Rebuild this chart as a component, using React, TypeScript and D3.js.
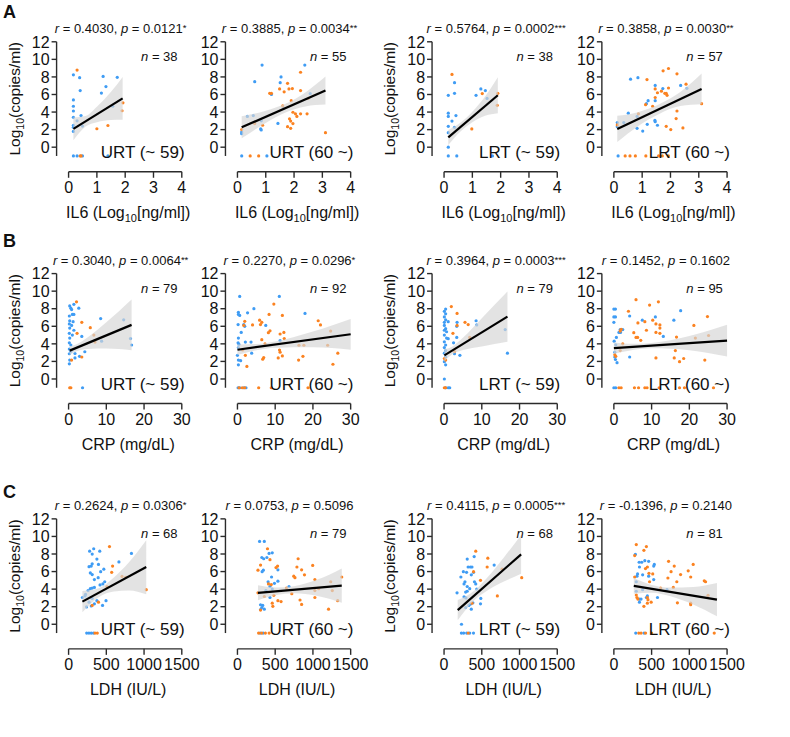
import React from "react";
import * as d3 from "d3";

type Pt = number[];

// ---------- Panel statistics ----------
const rValues = ["0.4030", "0.3885", "0.5764", "0.3858", "0.3040", "0.2270", "0.3964", "0.1452", "0.2624", "0.0753", "0.4115", "-0.1396"];
const pValues = ["0.0121", "0.0034", "0.0002", "0.0030", "0.0064", "0.0296", "0.0003", "0.1602", "0.0306", "0.5096", "0.0005", "0.2140"];
const stars = ["*", "**", "***", "**", "**", "*", "***", "", "*", "", "***", ""];
const nValues = [38, 55, 38, 57, 79, 92, 79, 95, 68, 79, 68, 81];
const groupLabels = ["URT (~ 59)", "URT (60 ~)", "LRT (~ 59)", "LRT (60 ~)"];
const rowLetters = ["A", "B", "C"];
const yTicks = [0, 2, 4, 6, 8, 10, 12];
const xTicksA = [0, 1, 2, 3, 4];
const xTicksB = [0, 10, 20, 30];
const xTicksC = [0, 500, 1000, 1500];

// ---------- Row A : IL6 ----------
const a1Blue: Pt[] = [[0.17,8.24],[0.39,7.92],[0.17,5.38],[0.17,4.66],[0.17,4.12],[0.17,3.4],[0.17,2.5],[0.17,2.26],[0.17,1.8],[0.41,6.45],[0.44,3.6],[0.3,3.0],[0.49,2.4],[1.22,8.06],[1.72,7.96],[1.32,6.9],[1.16,6.16],[1.56,4.66],[0.17,-1],[0.3,-1],[0.49,-1],[1.39,-1]];
const a1Orange: Pt[] = [[0.3,8.78],[1.92,5.05],[1.89,4.15],[1.0,2.1],[1.39,2.47],[0.41,-1],[0.44,-1]];
const a2Blue: Pt[] = [[0.87,9.35],[2.38,9.35],[0.61,7.46],[1.54,8.0],[1.51,7.35],[1.2,6.0],[1.43,2.7],[0.82,2.08],[0.84,1.97],[0.15,1.72],[0.15,1.54],[0.35,3.5],[0.56,3.6],[0.84,3.0],[1.62,4.4],[2.57,6.1],[0.15,-1],[1.04,-1]];
const a2Orange: Pt[] = [[2.23,8.53],[1.14,6.13],[1.2,6.13],[1.49,6.63],[1.65,6.3],[1.77,7.27],[1.82,6.63],[1.94,6.67],[2.23,6.45],[1.96,3.98],[2.05,3.8],[2.1,3.5],[2.23,3.8],[2.46,3.8],[1.84,3.23],[1.88,2.97],[1.96,2.69],[1.77,2.33],[1.88,2.15],[3.11,1.65],[0.15,2.0],[0.89,2.5],[0.61,2.69],[1.6,4.7],[1.9,5.3],[2.5,5.55],[0.45,-1],[0.75,-1]];
const a3Blue: Pt[] = [[0.37,7.35],[0.37,6.13],[0.15,5.9],[0.15,3.87],[0.15,3.5],[0.42,3.6],[0.28,2.97],[0.15,2.37],[0.15,1.65],[0.15,0],[1.13,5.9],[1.3,6.63],[1.46,6.45],[1.52,5.55],[0.37,2.26],[0.15,-1],[0.45,-1],[1.71,-1]];
const a3Orange: Pt[] = [[0.28,8.28],[1.35,6.1],[0.98,2.08],[1.9,6.13],[1.88,4.77]];
const a4Blue: Pt[] = [[0.59,7.74],[0.85,7.92],[1.46,7.03],[1.73,6.67],[2.36,7.03],[1.15,4.95],[1.21,5.3],[1.46,5.3],[0.51,3.87],[1.45,3.05],[1.46,2.9],[1.54,2.5],[1.18,2.6],[0.82,2.15],[1.02,1.83],[0.12,2.8],[0.12,2.33],[0.35,2.8],[0.82,3.5],[2.58,6.7],[0.15,-1]];
const a4Orange: Pt[] = [[1.93,8.96],[1.74,8.7],[2.23,8.35],[1.17,7.7],[1.46,6.63],[1.54,6.2],[1.68,6.38],[1.8,6.13],[1.88,5.9],[1.93,6.74],[1.85,6.13],[1.12,4.84],[1.46,5.66],[2.23,4.12],[2.2,3.26],[1.85,2.37],[2.01,2.0],[2.44,2.19],[3.1,4.95],[0.12,2.54],[0.87,3.8],[1.37,4.66],[2.55,7.17],[0.4,-1],[0.57,-1],[0.76,-1],[1.13,-1],[1.58,-1],[1.71,-1],[1.93,-1]];

// ---------- Row B : CRP ----------
const b1Blue: Pt[] = [[0.3,8.32],[0.6,8.06],[0.8,7.9],[1.4,8.5],[2.7,8.06],[0.2,7.17],[1.0,7.35],[0.3,6.63],[1.2,6.52],[0.2,6.27],[0.8,6.1],[0.3,5.8],[1.4,5.55],[0.2,5.2],[1.0,5.0],[0.3,4.66],[3.5,4.84],[0.2,4.12],[0.6,3.87],[0.2,3.4],[0.6,3.15],[0.2,2.87],[0.3,2.15],[0.2,1.72],[1.7,2.4],[2.9,2.58],[4.3,3.1],[8.5,6.88],[1.4,7.35],[16.7,3.87],[16.4,4.6],[14.6,6.74],[8.75,4.3],[1.7,2.9],[3.7,-1]];
const b1Orange: Pt[] = [[2.1,8.78],[3.5,6.45],[2.25,5.2],[5.75,5.84],[0.8,2.15],[3.5,2.5],[6.7,5.0],[7.0,4.2],[0.3,-1],[0.6,-1]];
const b2Blue: Pt[] = [[0.6,9.4],[11.1,9.4],[4.36,8.0],[2.68,7.53],[0.25,7.6],[0.25,7.35],[0.6,7.24],[17.9,7.46],[1.68,6.2],[1.93,5.99],[0.17,6.2],[7.5,6.1],[1.0,5.3],[0.25,4.66],[0.17,4.12],[2.1,4.2],[3.6,4.2],[0.25,3.58],[0,2.69],[0.25,2.15],[0.84,2.08],[0.25,1.61],[3.77,2.94],[11.3,4.37],[0.4,3.94],[0.17,-1],[0.6,-1],[1.68,-1],[2.26,-1]];
const b2Orange: Pt[] = [[9.64,8.53],[8.38,7.35],[11.9,7.24],[5.87,6.7],[6.45,6.45],[6.1,6.2],[4.0,6.16],[1.93,6.56],[1.68,6.1],[21.4,6.63],[22.0,6.16],[8.63,5.48],[8.2,5.27],[12.3,5.3],[11.3,5.12],[6.45,4.48],[11.15,3.3],[11.3,3.05],[11.9,2.62],[10.8,2.4],[6.96,2.44],[6.7,2.26],[16.2,2.15],[17.35,2.58],[2.5,1.43],[26.6,2.94],[25.3,1.68],[2.1,2.69],[7.3,4.0],[12.4,4.6],[16.3,3.84],[17.6,3.84],[23.9,3.84],[24.7,5.45],[1.4,3.3],[0.42,-1],[1.26,-1],[1.93,-1],[5.62,-1],[8.97,-1],[18.7,-1]];
const b3Blue: Pt[] = [[0.42,7.96],[0.08,7.7],[0.42,7.42],[0.08,7.06],[0.42,6.74],[0.08,6.45],[1.1,6.52],[0.08,6.1],[0.42,5.73],[0.08,5.55],[0.67,5.38],[0.08,5.0],[0.67,4.66],[1.1,4.59],[0.08,4.23],[0.42,3.87],[0.08,3.58],[0.42,3.23],[0.08,2.94],[0.42,2.5],[0.08,1.97],[0.42,1.61],[0.08,0],[3.45,6.45],[3.36,5.99],[2.52,4.12],[3.36,4.73],[2.77,2.87],[4.2,2.69],[8.49,6.63],[16.8,2.94],[8.66,6.16],[16.2,5.63],[0.42,-1],[1.1,-1],[1.5,-1]];
const b3Orange: Pt[] = [[1.93,8.24],[3.45,7.46],[3.45,6.1],[2.35,5.2],[5.55,6.45],[6.39,6.2],[0.08,2.33],[0.42,2.15],[6.8,4.73],[2.77,3.12],[0.08,-1],[0.42,-1]];
const b4Blue: Pt[] = [[0,7.96],[0.42,7.96],[0,7.06],[0.42,7.06],[0,6.45],[4.19,7.17],[1.68,5.63],[2.35,5.63],[1.76,5.3],[1.34,5.3],[0.67,4.73],[7.54,6.7],[11.0,7.06],[13.1,4.84],[15.9,6.7],[17.7,7.78],[4.19,2.5],[0.25,3.05],[0.42,2.22],[0.84,1.86],[0.25,2.5],[0.08,4.3],[0.5,3.9],[0,-1],[0.5,-1]];
const b4Orange: Pt[] = [[5.87,9.03],[11.8,8.78],[9.47,8.42],[3.86,7.71],[10.3,6.7],[8.21,6.52],[6.37,6.38],[11.15,6.27],[12.2,6.16],[12.2,5.8],[1.93,5.66],[1.68,5.45],[8.63,5.55],[5.28,5.27],[5.87,4.73],[6.29,4.73],[7.12,4.4],[11.15,5.3],[12.2,5.2],[21.2,6.1],[24.8,7.1],[11.15,2.4],[16.0,2.4],[17.4,1.97],[18.5,2.33],[24.1,2.15],[0.25,2.76],[0.5,2.58],[2.35,4.0],[1.68,3.23],[16.3,3.23],[16.6,4.77],[21.6,4.66],[25.1,4.95],[1.34,-1],[1.93,-1],[5.45,-1],[6.54,-1],[8.21,-1],[8.8,-1],[12.0,-1],[17.4,-1],[18.7,-1],[26.4,-1]];

// ---------- Row C : LDH ----------
const c1Blue: Pt[] = [[279,8.32],[333,8.6],[313,7.99],[413,8.32],[375,7.42],[313,6.88],[300,6.63],[396,6.81],[271,6.56],[467,6.27],[425,5.99],[288,5.84],[313,5.66],[392,5.3],[342,5.09],[479,4.84],[454,4.59],[417,4.48],[342,4.19],[313,4.12],[288,4.05],[258,3.84],[667,7.1],[833,8.06],[183,3.05],[217,3.23],[300,3.05],[375,2.69],[496,2.69],[450,2.15],[300,2.08],[342,2.33],[271,2.51],[238,1.97],[225,3.4],[313,2.94],[240,-1],[270,-1],[300,-1],[330,-1]];
const c1Orange: Pt[] = [[542,8.85],[583,6.63],[571,5.91],[313,2.15],[396,2.51],[1029,3.94],[708,5.45],[758,5.34],[508,4.3],[350,-1],[380,-1]];
const c2Blue: Pt[] = [[293,9.43],[356,9.43],[323,7.6],[348,7.46],[390,7.6],[419,8.06],[461,8.13],[343,6.16],[327,5.99],[536,6.2],[452,5.38],[406,4.84],[536,4.91],[431,4.3],[461,4.01],[431,3.05],[306,2.22],[335,2.15],[323,1.9],[356,1.72],[306,1.68],[377,3.84],[683,4.3],[490,4.66],[300,-1],[340,-1]];
const c2Orange: Pt[] = [[398,8.6],[306,6.74],[431,7.35],[272,6.16],[532,6.63],[511,6.45],[804,7.46],[788,6.52],[850,6.2],[888,5.63],[997,6.7],[1382,5.38],[746,5.48],[762,5.3],[411,4.59],[448,4.52],[482,3.3],[461,2.4],[469,2.04],[536,2.69],[578,2.58],[306,1.61],[829,2.76],[850,2.26],[1207,1.72],[272,3.58],[649,4.12],[720,3.48],[1026,5.09],[1026,3.05],[1026,3.84],[1077,4.05],[1236,4.84],[1257,3.84],[1328,2.69],[356,3.16],[280,-1],[320,-1],[370,-1],[420,-1]];
const c3Blue: Pt[] = [[307,7.42],[399,7.71],[256,5.99],[319,6.52],[349,6.52],[370,6.52],[298,5.91],[391,5.91],[361,5.63],[223,5.38],[277,4.84],[265,4.59],[403,4.84],[307,4.3],[420,4.59],[340,4.05],[433,4.01],[307,3.76],[286,3.66],[172,3.58],[265,3.12],[487,2.94],[382,2.44],[483,2.33],[328,2.15],[361,1.72],[286,1.9],[664,6.74],[231,0],[290,3.0],[350,2.3],[230,-1],[260,-1],[300,-1],[340,-1],[390,-1]];
const c3Orange: Pt[] = [[420,8.32],[580,7.53],[571,6.52],[391,5.99],[483,5.0],[706,3.23],[1029,5.3],[370,2.4],[769,6.27],[320,-1]];
const c4Blue: Pt[] = [[285,7.96],[335,7.06],[369,7.06],[410,7.24],[461,7.17],[536,6.81],[528,6.63],[339,6.52],[314,5.73],[306,5.48],[381,5.63],[461,5.48],[528,5.09],[297,4.84],[381,3.94],[444,3.23],[431,3.05],[578,3.05],[339,2.87],[360,2.87],[339,2.51],[297,3.76],[704,3.94],[290,-1],[400,-1]];
const c4Orange: Pt[] = [[297,9.07],[431,8.85],[398,8.42],[276,7.82],[725,7.17],[800,6.63],[1051,6.81],[758,5.99],[419,6.34],[444,6.52],[884,5.66],[985,6.09],[1018,5.38],[1198,4.95],[1215,4.84],[716,5.27],[834,4.84],[276,5.38],[515,5.73],[465,5.8],[473,4.84],[297,3.33],[306,3.05],[318,2.87],[444,3.05],[452,2.8],[494,2.51],[444,2.4],[398,2.04],[842,2.44],[1018,2.4],[1018,2.22],[1248,3.3],[788,4.19],[620,4.12],[330,-1],[360,-1],[420,-1],[500,-1],[1330,-1]];

// ---------- Regression lines [x, y] ----------
const lineA1: Pt[] = [[0.17,2.08],[1.91,5.56]];
const lineA2: Pt[] = [[0.15,2.26],[3.11,6.45]];
const lineA3: Pt[] = [[0.15,1.11],[1.9,5.91]];
const lineA4: Pt[] = [[0.12,2.08],[3.1,6.63]];
const lineB1: Pt[] = [[0.3,3.23],[16.7,6.16]];
const lineB2: Pt[] = [[0,3.33],[30,5.09]];
const lineB3: Pt[] = [[0.08,2.69],[16.8,7.1]];
const lineB4: Pt[] = [[0,3.51],[30,4.37]];
const lineC1: Pt[] = [[183,2.58],[1029,6.52]];
const lineC2: Pt[] = [[272,3.58],[1382,4.41]];
const lineC3: Pt[] = [[181,1.61],[1021,7.96]];
const lineC4: Pt[] = [[264,4.37],[1366,2.8]];

// ---------- 95% confidence bands [x, lower, upper] ----------
const bandA1: Pt[] = [[0.17,0.8,3.4],[0.6,2.35,3.55],[1.0,2.85,4.6],[1.5,3.1,6.3],[1.91,3.12,8.0]];
const bandA2: Pt[] = [[0.15,1.01,3.51],[1.0,2.76,4.16],[1.7,3.95,4.95],[2.4,4.64,6.24],[3.11,4.85,8.05]];
const bandA3: Pt[] = [[0.15,0.26,1.96],[0.6,1.84,2.84],[1.0,2.84,4.04],[1.45,3.57,5.77],[1.9,3.86,7.96]];
const bandA4: Pt[] = [[0.12,0.58,3.58],[0.85,2.39,3.99],[1.6,3.79,4.89],[2.35,4.68,6.28],[3.1,4.88,8.38]];
const bandB1: Pt[] = [[0.3,2.73,3.73],[2,3.13,3.93],[5,3.42,4.72],[10,3.46,6.46],[16.7,3.26,9.06]];
const bandB2: Pt[] = [[0,2.73,3.93],[5,3.27,3.97],[10,3.57,4.27],[20,3.6,5.4],[30,3.34,6.84]];
const bandB3: Pt[] = [[0.08,1.99,3.39],[2,2.75,3.65],[5,3.29,4.69],[10,3.71,6.91],[16.8,4.25,9.95]];
const bandB4: Pt[] = [[0,2.86,4.16],[5,3.3,4.0],[10,3.5,4.1],[20,3.28,4.88],[30,2.57,6.17]];
const bandC1: Pt[] = [[183,1.38,3.78],[400,3.09,4.09],[600,3.72,5.32],[800,3.85,7.05],[1029,3.42,9.57]];
const bandC2: Pt[] = [[272,2.73,4.43],[500,3.3,4.2],[750,3.54,4.34],[1050,3.26,5.06],[1382,2.46,6.36]];
const bandC3: Pt[] = [[181,0.46,2.76],[400,2.72,3.82],[600,3.98,5.58],[800,4.89,7.69],[1021,5.76,10.16]];
const bandC4: Pt[] = [[264,3.47,5.27],[500,3.58,4.48],[750,3.18,4.18],[1050,2.25,4.25],[1366,0.9,4.7]];

// ---------- Panel table built from the arrays ----------
const blues = [a1Blue, a2Blue, a3Blue, a4Blue, b1Blue, b2Blue, b3Blue, b4Blue, c1Blue, c2Blue, c3Blue, c4Blue];
const oranges = [a1Orange, a2Orange, a3Orange, a4Orange, b1Orange, b2Orange, b3Orange, b4Orange, c1Orange, c2Orange, c3Orange, c4Orange];
const lines = [lineA1, lineA2, lineA3, lineA4, lineB1, lineB2, lineB3, lineB4, lineC1, lineC2, lineC3, lineC4];
const bands = [bandA1, bandA2, bandA3, bandA4, bandB1, bandB2, bandB3, bandB4, bandC1, bandC2, bandC3, bandC4];
const rowXTicks = [xTicksA, xTicksB, xTicksC];

// ---------- Layout ----------
const W = 790, H = 737;
const K = 1.06;
const COL_X0 = [72.7, 251.7, 470.7, 650.7].map((v) => v / K);
const ROW_Y12 = [44.3, 290, 550].map((v) => v / K);
const LETTER_Y = [18, 247, 498];
const X_LEN = 120 / K;
const Y_UNIT = 9.31 / K;
const FONT = "'Liberation Sans', Arial, Helvetica, sans-serif";
const BLUE = "#3f9cf4";
const ORANGE = "#fb8220";
const AXIS = "#2b2b2b";

function XTitle({ row, x, y }: { row: number; x: number; y: number }) {
  if (row === 0)
    return (
      <text x={x} y={y} textAnchor="middle" fontSize={16}>
        IL6 (Log<tspan fontSize={11} dy={4}>10</tspan>
        <tspan dy={-4}>[ng/ml])</tspan>
      </text>
    );
  return (
    <text x={x} y={y} textAnchor="middle" fontSize={16}>
      {row === 1 ? "CRP (mg/dL)" : "LDH (IU/L)"}
    </text>
  );
}

function Panel({ idx }: { idx: number }) {
  const row = Math.floor(idx / 4);
  const col = idx % 4;
  const ticks = rowXTicks[row];
  const x0 = COL_X0[col];
  const y12 = ROW_Y12[row];
  const x = d3.scaleLinear().domain([0, ticks[ticks.length - 1]]).range([x0, x0 + X_LEN]);
  const y = d3.scaleLinear().domain([0, 12]).range([y12 + 12 * Y_UNIT, y12]);
  const yAxisX = x0 - 12;
  const yBottom = y(-1);
  const xAxisY = yBottom + 15.8;
  const area = d3
    .area<Pt>()
    .x((d) => x(d[0]))
    .y0((d) => y(d[1]))
    .y1((d) => y(d[2]))
    .curve(d3.curveMonotoneX);
  const line = d3
    .line<Pt>()
    .x((d) => x(d[0]))
    .y((d) => y(d[1]));
  const cx = x0 + 52;
  return (
    <g>
      {blues[idx].map((d, i) => (
        <circle key={"b" + i} cx={x(d[0])} cy={y(d[1])} r={1.6} fill={BLUE} />
      ))}
      {oranges[idx].map((d, i) => (
        <circle key={"o" + i} cx={x(d[0])} cy={y(d[1])} r={1.6} fill={ORANGE} />
      ))}
      <path d={area(bands[idx]) || ""} fill="#d6d6d6" fillOpacity={0.68} />
      <path d={line(lines[idx]) || ""} stroke="#000" strokeWidth={2.2} fill="none" />

      <line x1={yAxisX} x2={yAxisX} y1={y(12)} y2={yBottom} stroke={AXIS} strokeWidth={1.4} />
      {yTicks.map((t) => (
        <g key={"yt" + t}>
          <line x1={yAxisX - 5} x2={yAxisX} y1={y(t)} y2={y(t)} stroke={AXIS} strokeWidth={1.4} />
          <text x={yAxisX - 7} y={y(t)} dy="0.36em" textAnchor="end" fontSize={16}>
            {t}
          </text>
        </g>
      ))}
      <line x1={x(0)} x2={x(ticks[ticks.length - 1])} y1={xAxisY} y2={xAxisY} stroke={AXIS} strokeWidth={1.4} />
      {ticks.map((t) => (
        <g key={"xt" + t}>
          <line x1={x(t)} x2={x(t)} y1={xAxisY} y2={xAxisY + 6} stroke={AXIS} strokeWidth={1.4} />
          <text x={x(t)} y={xAxisY + 21} textAnchor="middle" fontSize={16}>
            {t}
          </text>
        </g>
      ))}
      <XTitle row={row} x={x0 + X_LEN / 2 + 3} y={xAxisY + 46} />

      {col % 2 === 0 && (
        <text
          transform={`translate(${yAxisX - 37},${(y(12) + yBottom) / 2}) rotate(-90)`}
          textAnchor="middle"
          fontSize={15.5}
        >
          Log<tspan fontSize={10.5} dy={4}>10</tspan>
          <tspan dy={-4}>(copies/ml)</tspan>
        </text>
      )}

      <text x={cx} y={y12 - 8.5} textAnchor="middle" fontSize={13}>
        <tspan fontStyle="italic">r</tspan> = {rValues[idx]}, <tspan fontStyle="italic">p</tspan> = {pValues[idx]}
        {stars[idx] && (
          <tspan fontSize={9.5} dy={-2}>
            {stars[idx]}
          </tspan>
        )}
      </text>
      <text x={x0 + 109} y={y12 + 19.5} textAnchor="end" fontSize={13}>
        <tspan fontStyle="italic">n</tspan> = {nValues[idx]}
      </text>
      <text x={x0 + 116} y={yBottom + 2} textAnchor="end" fontSize={17}>
        {groupLabels[col]}
      </text>
    </g>
  );
}

export default function App() {
  return (
    <svg
      width={W}
      height={H}
      viewBox={`0 0 ${W} ${H}`}
      style={{ position: "absolute", left: 0, top: 0, background: "#fff" }}
      fontFamily={FONT}
      fill="#111"
    >
      <rect x={0} y={0} width={W} height={H} fill="#fff" />
      {rowLetters.map((l, i) => (
        <text key={l} x={3} y={LETTER_Y[i]} fontSize={18} fontWeight="bold">
          {l}
        </text>
      ))}
      {d3.range(12).map((i) => (
        <Panel key={i} idx={i} />
      ))}
    </svg>
  );
}
